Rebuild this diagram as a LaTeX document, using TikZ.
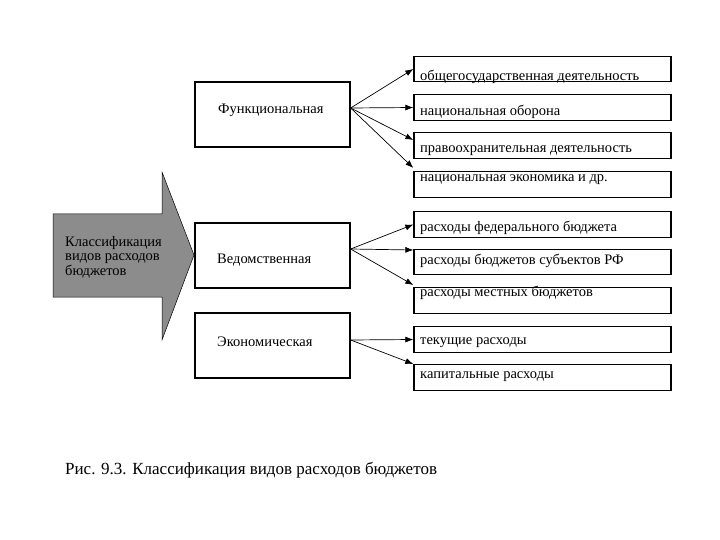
\documentclass[tikz,border=0pt]{standalone}
\usepackage{fontspec}
\setmainfont{Liberation Serif}
\usetikzlibrary{arrows.meta, positioning}
\definecolor{arrowgray}{RGB}{140, 140, 140}
\tikzset{
	lbox/.style={draw, line width=1.3pt, minimum width=155pt, minimum height=65pt, inner sep=0pt},
	rbox/.style={draw, line width=1.3pt, minimum width=257pt, minimum height=25.5pt, inner sep=0pt},
	txt/.style={anchor=base west, inner sep=0pt, font=\fontsize{14.5}{14.5}\selectfont},
	conn/.style={draw, line width=0.7pt, -{Latex[length=8pt, width=6pt]}}
}

\begin{document}
\begin{tikzpicture}[x=1pt, y=-1pt]
		\useasboundingbox (0,0) rectangle (720,540);
		% big arrow
		\draw[fill=arrowgray, line width=0.5pt] (53,214) -- (162,214) -- (162,172) -- (194,255)
			-- (162,340) -- (162,297) -- (53,297) -- cycle;
		\node[txt, align=left, anchor=north west] (src) at (65,236) {Классификация\\видов расходов\\бюджетов};
		% left boxes
		\node[lbox] (f) at (272.5,114.5) {};
		\node[lbox] (v) at (272.5,255.5) {};
		\node[lbox] (e) at (272.5,345.5) {};
		\node[txt] (ft) at (218,114) {Функциональная};
		\node[txt] (vt) at (217,263) {Ведомственная};
		\node[txt] (et) at (217,346) {Экономическая};
		% right boxes
		\node[rbox] (r1) at (542.5,69) {};
		\node[rbox] (r2) at (542.5,107.5) {};
		\node[rbox] (r3) at (542.5,145.5) {};
		\node[rbox] (r4) at (542.5,184.5) {};
		\node[rbox] (r5) at (542.5,224.5) {};
		\node[rbox] (r6) at (542.5,262) {};
		\node[rbox] (r7) at (542.5,300.5) {};
		\node[rbox] (r8) at (542.5,339.5) {};
		\node[rbox] (r9) at (542.5,377.5) {};
		\node[txt] (t1) at (420,81) {общегосударственная деятельность};
		\node[txt] (t2) at (420,115.5) {национальная оборона};
		\node[txt] (t3) at (420,152.5) {правоохранительная деятельность};
		\node[txt] (t4) at (420,181.5) {национальная экономика и др.};
		\node[txt] (t5) at (420,231.5) {расходы федерального бюджета};
		\node[txt] (t6) at (420,264.5) {расходы бюджетов субъектов РФ};
		\node[txt] (t7) at (420,296.5) {расходы местных бюджетов};
		\node[txt] (t8) at (420,344.5) {текущие расходы};
		\node[txt] (t9) at (420,378.5) {капитальные расходы};
		% connectors
		\draw[conn] ([yshift=6.5pt]f.east) -- (r1.west);
		\draw[conn] ([yshift=6.5pt]f.east) -- (r2.west);
		\draw[conn] ([yshift=6.5pt]f.east) -- ([yshift=5.5pt]r3.west);
		\draw[conn] ([yshift=6.5pt]f.east) -- ([yshift=16.5pt]r4.west);
		\draw[conn] ([yshift=6.5pt]v.east) -- (r5.west);
		\draw[conn] ([yshift=6.5pt]v.east) -- ([yshift=12pt]r6.west);
		\draw[conn] ([yshift=6.5pt]v.east) -- ([yshift=15.5pt]r7.west);
		\draw[conn] ([yshift=5.5pt]e.east) -- (r8.west);
		\draw[conn] ([yshift=5.5pt]e.east) -- ([yshift=13.5pt]r9.west);
		% caption
		\node[txt, font=\fontsize{17}{19}\selectfont] (cap) at (65,474) {Рис. 9.3. Классификация видов расходов бюджетов};
\end{tikzpicture}
\end{document}
